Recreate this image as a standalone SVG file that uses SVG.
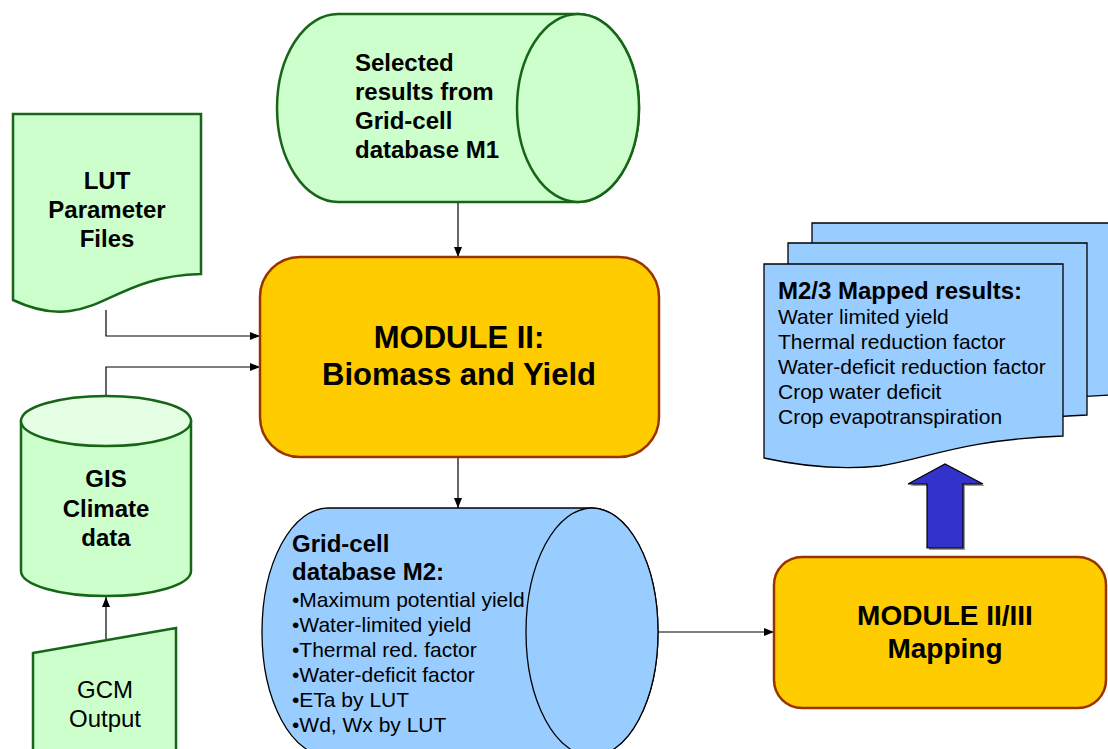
<svg xmlns="http://www.w3.org/2000/svg" width="1108" height="749" viewBox="0 0 1108 749">
<style>
text{font-family:"Liberation Sans",Arial,sans-serif;fill:#000}
.b{font-weight:bold}
.g{fill:#ccffcc;stroke:#176617;stroke-width:2.5}
.bl{fill:#99ccff;stroke:#000;stroke-width:1.3}
.mod{fill:#ffcc00;stroke:#993300;stroke-width:2.5}
.c{fill:none;stroke:#000;stroke-width:1.2}
</style>
<defs>
<marker id="ah" viewBox="0 0 10 10" refX="10" refY="5" markerWidth="10" markerHeight="10" markerUnits="userSpaceOnUse" orient="auto">
<path d="M0,1 L10,5 L0,9 Z" fill="#000"/>
</marker>
<path id="doc" d="M764,264 H1063 V436 C960,440 930,458 880,466 C840,470 800,466 764,458 Z"/>
</defs>

<g id="connectors">
<path class="c" d="M458,202 V257" marker-end="url(#ah)"/>
<path class="c" d="M106,310 V336 H260" marker-end="url(#ah)"/>
<path class="c" d="M106,395 V367 H260" marker-end="url(#ah)"/>
<path class="c" d="M458,457 V508" marker-end="url(#ah)"/>
<path class="c" d="M106,639 V597" marker-end="url(#ah)"/>
<path class="c" d="M658,632 H774" marker-end="url(#ah)"/>
</g>

<g id="db-m1">
<path class="g" d="M338,14 H578 A61,94 0 0 1 578,202 H338 A61,94 0 0 1 338,14 Z"/>
<ellipse class="g" cx="578" cy="108" rx="61" ry="94"/>
<text class="b" font-size="24" x="355" y="71">Selected</text>
<text class="b" font-size="24" x="355" y="100">results from</text>
<text class="b" font-size="24" x="355" y="129">Grid-cell</text>
<text class="b" font-size="24" x="355" y="158">database M1</text>
</g>

<g id="lut">
<path class="g" d="M13,114 H201 V274 C130,276 110,306 70,311 C50,314 30,308 13,300 Z"/>
<text class="b" font-size="24" x="107" y="189" text-anchor="middle">LUT</text>
<text class="b" font-size="24" x="107" y="218" text-anchor="middle">Parameter</text>
<text class="b" font-size="24" x="107" y="247" text-anchor="middle">Files</text>
</g>

<g id="module2">
<rect class="mod" x="260" y="257" width="399" height="200" rx="40"/>
<text class="b" font-size="31" x="459" y="348" text-anchor="middle">MODULE II:</text>
<text class="b" font-size="31" x="459" y="385" text-anchor="middle">Biomass and Yield</text>
</g>

<g id="gis">
<path class="g" d="M21,421 V571 A85,25 0 0 0 191,571 V421 Z"/>
<ellipse cx="106" cy="421" rx="85" ry="25" fill="#e4ffe4" stroke="#176617" stroke-width="2.5"/>
<text class="b" font-size="24" x="106" y="487" text-anchor="middle">GIS</text>
<text class="b" font-size="24" x="106" y="517" text-anchor="middle">Climate</text>
<text class="b" font-size="24" x="106" y="546" text-anchor="middle">data</text>
</g>

<g id="gcm">
<path class="g" d="M33,653 L176,628 V760 H33 Z"/>
<text font-size="24" x="105" y="698" text-anchor="middle">GCM</text>
<text font-size="24" x="105" y="727" text-anchor="middle">Output</text>
</g>

<g id="db-m2">
<path class="bl" d="M328,508 H592 A66,124 0 0 1 592,756 H328 A66,124 0 0 1 328,508 Z"/>
<ellipse class="bl" cx="592" cy="632" rx="66" ry="124"/>
<text class="b" font-size="24" x="292" y="552">Grid-cell</text>
<text class="b" font-size="24" x="292" y="580">database M2:</text>
<text font-size="21" x="292" y="607">•Maximum potential yield</text>
<text font-size="21" x="292" y="632">•Water-limited yield</text>
<text font-size="21" x="292" y="657">•Thermal red. factor</text>
<text font-size="21" x="292" y="682">•Water-deficit factor</text>
<text font-size="21" x="292" y="707">•ETa by LUT</text>
<text font-size="21" x="292" y="732">•Wd, Wx by LUT</text>
</g>

<g id="module23">
<rect class="mod" x="774" y="557" width="332" height="151" rx="28"/>
<text class="b" font-size="28" x="945" y="625" text-anchor="middle">MODULE II/III</text>
<text class="b" font-size="28" x="945" y="658" text-anchor="middle">Mapping</text>
</g>

<g id="mapped-results">
<use href="#doc" class="bl" transform="translate(48,-41)"/>
<use href="#doc" class="bl" transform="translate(24,-21)"/>
<use href="#doc" class="bl"/>
<text class="b" font-size="24" x="778" y="299">M2/3 Mapped results:</text>
<text font-size="21" x="778" y="324">Water limited yield</text>
<text font-size="21" x="778" y="349">Thermal reduction factor</text>
<text font-size="21" x="778" y="374">Water-deficit reduction factor</text>
<text font-size="21" x="778" y="399">Crop water deficit</text>
<text font-size="21" x="778" y="424">Crop evapotranspiration</text>
</g>

<g id="up-arrow">
<polygon points="910,486 947,466 985,486 965,486 965,550 929,550 929,486" fill="#999"/>
<polygon points="908,484 945,464 983,484 963,484 963,548 927,548 927,484" fill="#3333cc" stroke="#000" stroke-width="1.2"/>
</g>
</svg>
